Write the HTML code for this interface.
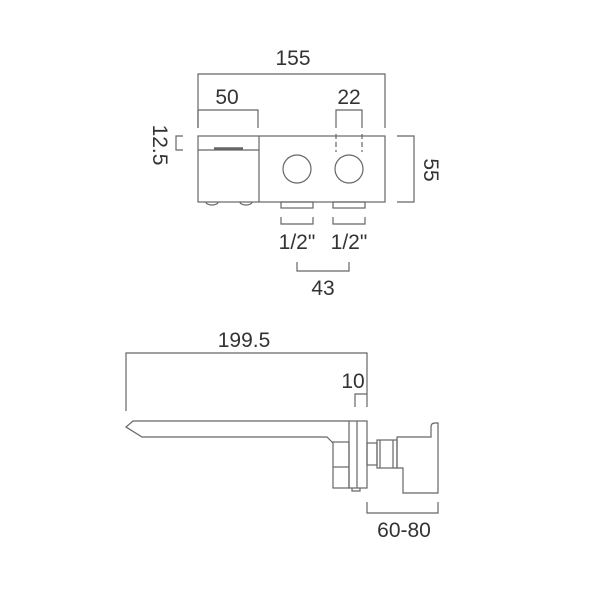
<!DOCTYPE html>
<html><head><style>
html,body{margin:0;padding:0;background:#fff;width:600px;height:600px;overflow:hidden}
text{font-family:"Liberation Sans Narrow","Liberation Sans",sans-serif;font-stretch:condensed;font-size:21px;fill:#333}
</style></head><body>
<svg width="600" height="600" viewBox="0 0 600 600" xmlns="http://www.w3.org/2000/svg">
<g fill="none" stroke="#666" stroke-width="1.2">
<rect x="198" y="136" width="187" height="66"/>
<line x1="259" y1="136" x2="259" y2="202"/>
<line x1="198" y1="150" x2="259" y2="150"/>
<line x1="214" y1="148.5" x2="243" y2="148.5" stroke-width="2.5"/>
<circle cx="297" cy="169" r="14"/>
<circle cx="349" cy="169" r="14"/>
<path d="M206,202 a6,3 0 0 0 12,0 M240,202 a6,3 0 0 0 12,0"/>
<rect x="281" y="202" width="32" height="6"/>
<rect x="333" y="202" width="32" height="6"/>
<path d="M281,217 V224 H313 V217 M333,217 V224 H365 V217"/>
<path d="M297,262 V271 H349 V262"/>
<path d="M198,128 V74 H385 V128"/>
<path d="M198,128 V110 H258 V128"/>
<path d="M336,128 V110 H362 V128"/>
<path d="M336,134 V152 M362,134 V152" stroke-dasharray="5,3"/>
<path d="M183,136 H176 V150 H183"/>
<path d="M397,136 H414 V202 H397"/>
<path d="M126,411 V353 H367 V407"/>
<path d="M355,407 V394 H367"/>
<path d="M349,421 H133 L126,427 L142,437 H327 L333,443"/>
<rect x="349" y="421" width="18" height="67"/>
<line x1="357" y1="421" x2="357" y2="488"/>
<rect x="333" y="442" width="16" height="46"/>
<line x1="333" y1="467" x2="349" y2="467"/>
<path d="M352,488 V491 H360 V488"/>
<rect x="367" y="443" width="10" height="22"/>
<rect x="377" y="440" width="20" height="28"/>
<line x1="380" y1="440" x2="380" y2="468"/>
<line x1="393" y1="440" x2="393" y2="468"/>
<path d="M397,437 H431 V427 Q431,423 435,423 H438 V493 H403 V468 H397 Z"/>
<path d="M367,502 V513 H438 V502"/>
</g>
<g text-anchor="middle">
<text x="293" y="65">155</text>
<text x="227" y="104">50</text>
<text x="349" y="104">22</text>
<text x="297" y="249">1/2"</text>
<text x="349" y="249">1/2"</text>
<text x="323" y="295">43</text>
<text transform="translate(153,145) rotate(90)">12.5</text>
<text transform="translate(424,170) rotate(90)">55</text>
<text x="244" y="347">199.5</text>
<text x="353" y="388">10</text>
<text x="404" y="537">60-80</text>
</g>
</svg>
</body></html>
